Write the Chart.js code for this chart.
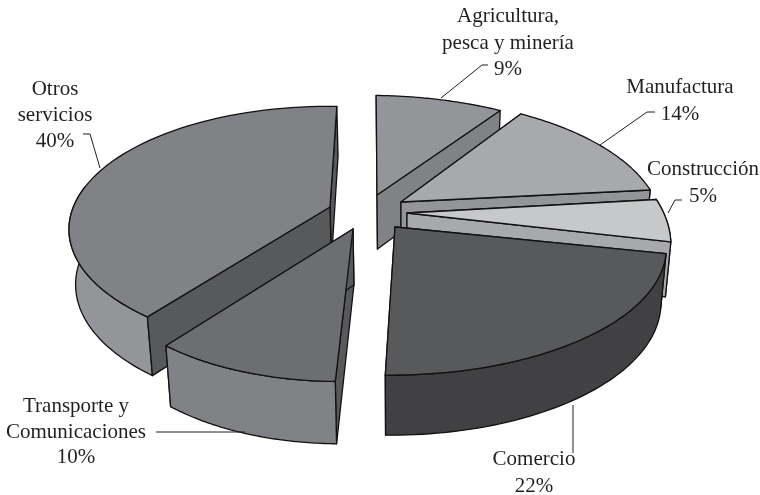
<!DOCTYPE html>
<html>
<head>
<meta charset="utf-8">
<style>html,body{margin:0;background:#fff}</style>
<script src="https://cdn.jsdelivr.net/npm/chart.js@4"></script>
</head>
<body>
<canvas id="pie" width="760" height="495"></canvas>
<script>
var categories = ['Agricultura,\npesca y minería', 'Manufactura', 'Construcción', 'Comercio', 'Transporte y\nComunicaciones', 'Otros\nservicios'];
var shares = [9, 14, 5, 22, 10, 40];

var topColors = ['#939598', '#a7a9ac', '#c7c8ca', '#58595b', '#6d6e71', '#808285'];
var rimColors = ['#808285', '#939598', '#a7a9ac', '#414042', '#808285', '#939598'];
var cutColors = ['#808285', '#939598', '#a7a9ac', '#414042', '#58595b', '#58595b'];

// how far each slice is pulled out from the chart centre, px
var explodeX = [-3, 21, 27, 15, -27, -50];
var explodeY = [-52.5, -45.5, -34.5, -20.5, -18.5, -40.5];
// the original's perspective is not the same from slice to slice
var stretchX = [1.03, 0.995, 1, 1.04, 0.98, 0.99];
var stretchY = [0.96, 1, 1.1, 1, 1.03, 0.97];
var leans = [1, 0, 9, -8, -14.6, -8];
var depths = [54, 54, 54, 54, 56, 54];
var paintOrder = [0, 1, 2, 5, 3, 4];

// label anchor (centre x, first baseline) and leader line per slice
var labelAt = [[508, 22], [680, 93], [703, 175], [534, 465], [76, 412], [55, 95]];
var lineHeights = [26.5, 27, 27, 27, 25.5, 26];
var leaders = [
    [[441, 98], [482, 65], [488, 65]],
    [[600, 145], [647, 112], [655, 112]],
    [[668, 213], [675, 200], [682, 200]],
    [[573, 405], [573, 453]],
    [[245, 432], [156, 432]],
    [[100, 168], [90, 134], [83, 134]]
];

var squash = 122 / 258, persp = 0.176, tilt = 3, vanishX = 400;
var rimFrom = 82 * Math.PI / 180, rimTo = 278 * Math.PI / 180;

function project(arc, i, angle, r, low) {
    var u = Math.sin(angle) * r, v = -Math.cos(angle) * r;
    var w = 1 / (1 - persp * v);
    var R = arc.outerRadius;
    var x = arc.x + explodeX[i] + (R * stretchX[i] * u + leans[i] * v) * w;
    var y = arc.y + explodeY[i] + R * squash * stretchY[i] * v * w + tilt * u;
    if (low) {
        y += depths[i] * Math.pow(w, 0.55);
        x += (vanishX - x) * 0.02;
    }
    return [x, y];
}

function rimPoints(arc, i, a0, a1, low) {
    var pts = [];
    for (var k = 0; k <= 60; k++) {
        pts.push(project(arc, i, a0 + (a1 - a0) * k / 60, 1, low));
    }
    return pts;
}

function fillShape(ctx, pts, color) {
    ctx.beginPath();
    pts.forEach(function (p, k) { k ? ctx.lineTo(p[0], p[1]) : ctx.moveTo(p[0], p[1]); });
    ctx.closePath();
    ctx.fillStyle = color;
    ctx.fill();
    ctx.stroke();
}

function drawCut(ctx, arc, i, a0, a) {
    fillShape(ctx, [
        project(arc, i, a0, 0, false), project(arc, i, a, 1, false),
        project(arc, i, a, 1, true), project(arc, i, a0, 0, true)
    ], cutColors[i]);
}

var slices3d = {
    id: 'slices3d',
    beforeDatasetDraw: function () { return false; },
    afterDatasetsDraw: function (chart) {
        var ctx = chart.ctx, arcs = chart.getDatasetMeta(0).data;
        ctx.save();
        ctx.strokeStyle = '#111';
        ctx.lineWidth = 1.3;
        ctx.lineJoin = 'round';
        paintOrder.forEach(function (i) {
            var arc = arcs[i];
            var a0 = arc.startAngle + Math.PI / 2, a1 = arc.endAngle + Math.PI / 2;
            var a0Front = Math.sin(a0) < -0.01, a1Front = Math.sin(a1) > 0.01;
            if (!a0Front) drawCut(ctx, arc, i, a0, a0);
            if (!a1Front) drawCut(ctx, arc, i, a0, a1);
            // only the part of the rim that faces the viewer
            var r0 = Math.max(a0, rimFrom), r1 = Math.min(a1, rimTo);
            if (r1 > r0) {
                fillShape(ctx, rimPoints(arc, i, r0, r1, false).concat(rimPoints(arc, i, r1, r0, true)), rimColors[i]);
            }
            if (a0Front) drawCut(ctx, arc, i, a0, a0);
            if (a1Front) drawCut(ctx, arc, i, a0, a1);
            fillShape(ctx, [project(arc, i, a0, 0, false)].concat(rimPoints(arc, i, a0, a1, false)), arc.options.backgroundColor);
        });

        ctx.strokeStyle = '#231f20';
        ctx.lineWidth = 1;
        leaders.forEach(function (pts) {
            ctx.beginPath();
            pts.forEach(function (p, k) { k ? ctx.lineTo(p[0], p[1]) : ctx.moveTo(p[0], p[1]); });
            ctx.stroke();
        });

        ctx.font = '21px "Liberation Serif"';
        ctx.fillStyle = '#231f20';
        ctx.textAlign = 'center';
        ctx.textBaseline = 'alphabetic';
        categories.forEach(function (name, i) {
            name.split('\n').concat(shares[i] + '%').forEach(function (line, k) {
                ctx.fillText(line, labelAt[i][0], labelAt[i][1] + k * lineHeights[i]);
            });
        });
        ctx.restore();
    }
};

new Chart(document.getElementById('pie').getContext('2d'), {
    type: 'pie',
    data: {
        labels: categories,
        datasets: [{ data: shares, backgroundColor: topColors }]
    },
    options: {
        responsive: false,
        animation: false,
        radius: 258,
        plugins: { legend: { display: false }, tooltip: { enabled: false } }
    },
    plugins: [slices3d]
});
</script>
</body>
</html>
